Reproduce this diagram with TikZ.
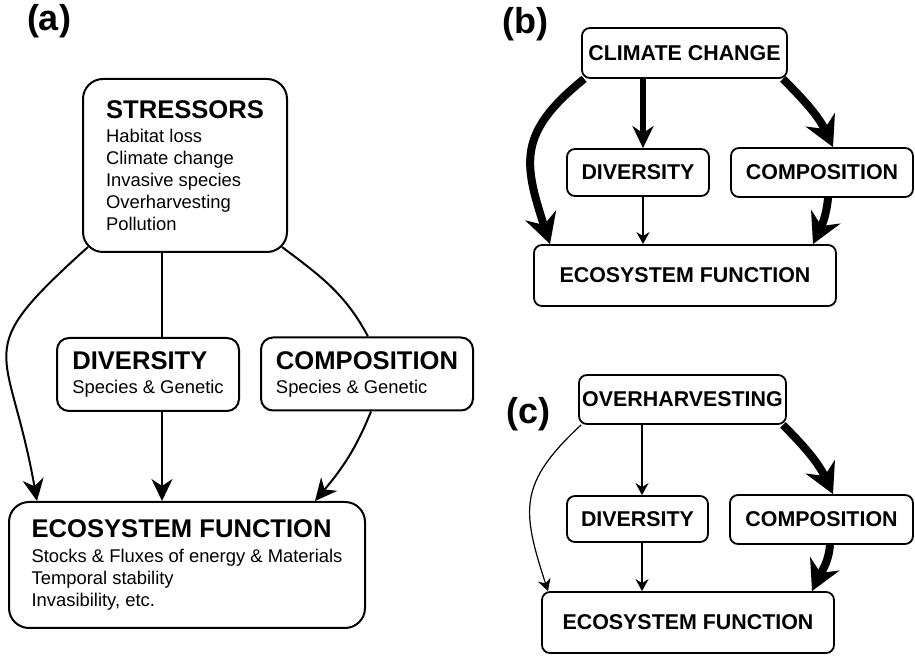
\documentclass[tikz,border=0pt]{standalone}
\usepackage{fontspec}
\setmainfont{Liberation Sans}
\usetikzlibrary{arrows.meta}

\newcommand{\boxtitle}[1]{{\fontsize{12.8}{14}\selectfont\bfseries #1}}

\begin{document}
\begin{tikzpicture}[
    x=0.5pt, y=-0.5pt,
    panel/.style={font=\fontsize{18}{20}\selectfont\bfseries, inner sep=0pt},
    bigbox/.style={draw, line width=1pt, rounded corners=6pt, align=left, inner sep=0pt,
                   font=\fontsize{9.2}{11}\selectfont},
    box/.style={draw, line width=0.9pt, rounded corners=4pt, inner sep=0pt,
                font=\fontsize{10.7}{12}\selectfont\bfseries},
    linkA/.style={line width=1pt},
    arrA/.style={linkA, -{Stealth[length=11pt, width=10.5pt, inset=3.5pt]}},
    weakarr/.style={line width=0.6pt, -{Stealth[length=6pt, width=6.5pt, inset=2pt]}},
    midarr/.style={line width=2.8pt, -{Stealth[length=11pt, width=10.5pt, inset=3.5pt]}},
    strongarr/.style={line width=4pt, -{Stealth[length=15pt, width=16pt, inset=5pt]}}
  ]
  \useasboundingbox (0,0) rectangle (915,656);

  % (a) general scheme
  \node[panel] (labA) at (49,21) {(a)};
  \node[bigbox, rounded corners=10pt, minimum width=102pt, minimum height=86.5pt]
    (stress) at (185,165.5)
    {\boxtitle{STRESSORS}\\[1pt] Habitat loss\\ Climate change\\ Invasive species\\
     Overharvesting\\ Pollution};
  \node[bigbox, minimum width=91pt, minimum height=36.5pt] (divA) at (148,374.5)
    {\boxtitle{DIVERSITY}\\[1pt] Species \& Genetic};
  \node[bigbox, minimum width=106pt, minimum height=36.5pt] (compA) at (367,374)
    {\boxtitle{COMPOSITION}\\[1pt] Species \& Genetic};
  \node[bigbox, rounded corners=10pt, minimum width=178pt, minimum height=63pt]
    (ecoA) at (187,565)
    {\boxtitle{ECOSYSTEM FUNCTION}\\[1.5pt] Stocks \& Fluxes of energy \& Materials\\
     Temporal stability\\ Invasibility, etc.};

  \draw[arrA] ([xshift=3pt,yshift=3pt]stress.south west)
    to[out=222, in=100, looseness=1.6] ([xshift=-75pt]ecoA.north);
  \draw[linkA] ([xshift=7pt]divA.north |- stress.south) -- ([xshift=7pt]divA.north);
  \draw[linkA] ([xshift=-3pt,yshift=3pt]stress.south east)
    to[out=-37, in=118] ([xshift=0.5pt]compA.north);
  \draw[arrA] ([xshift=7pt]divA.south) -- ([xshift=7pt]divA.south |- ecoA.north);
  \draw[arrA] ([xshift=2pt]compA.south) to[out=-112, in=50] ([xshift=64pt]ecoA.north);

  % (b) climate change
  \node[panel] (labB) at (525.5,24) {(b)};
  \node[box, minimum width=102.5pt, minimum height=25pt] (cc) at (684.5,53) {CLIMATE CHANGE};
  \node[box, minimum width=71pt, minimum height=23.5pt] (divB) at (638,172.5) {DIVERSITY};
  \node[box, minimum width=91pt, minimum height=24.5pt] (compB) at (822,172.5) {COMPOSITION};
  \node[box, minimum width=151pt, minimum height=30.5pt] (ecoB) at (685,275.5) {ECOSYSTEM FUNCTION};

  \draw[strongarr] ([xshift=1.5pt]cc.south west)
    to[out=219, in=108, looseness=1.3] ([xshift=-67.5pt]ecoB.north);
  \draw[midarr] ([xshift=2.5pt]divB.north |- cc.south) -- ([xshift=2.5pt]divB.north);
  \draw[strongarr] ([xshift=-2.5pt]cc.south east) to[out=-45, in=115] ([xshift=5.5pt]compB.north);
  \draw[weakarr] ([xshift=2.5pt]divB.south) -- ([xshift=2.5pt]divB.south |- ecoB.north);
  \draw[strongarr] ([xshift=3pt]compB.south) to[out=-95, in=65] ([xshift=64pt]ecoB.north);

  % (c) overharvesting
  \node[panel] (labC) at (528.5,414) {(c)};
  \node[box, minimum width=103.5pt, minimum height=24.5pt] (oh) at (682.5,399.5) {OVERHARVESTING};
  \node[box, minimum width=70.5pt, minimum height=23pt] (divC) at (637.5,519) {DIVERSITY};
  \node[box, minimum width=91.5pt, minimum height=24.5pt] (compC) at (821.5,519.5) {COMPOSITION};
  \node[box, minimum width=146pt, minimum height=30.5pt] (ecoC) at (688,622.5) {ECOSYSTEM FUNCTION};

  \draw[weakarr] ([xshift=1.5pt]oh.south west)
    to[out=223, in=108, looseness=1.3] ([xshift=-70pt]ecoC.north);
  \draw[weakarr] ([xshift=2.25pt]divC.north |- oh.south) -- ([xshift=2.25pt]divC.north);
  \draw[strongarr] ([xshift=-2pt]oh.south east) to[out=-45, in=115] ([xshift=5.75pt]compC.north);
  \draw[weakarr] ([xshift=2.25pt]divC.south) -- ([xshift=2.25pt]divC.south |- ecoC.north);
  \draw[strongarr] ([xshift=4.25pt]compC.south) to[out=-95, in=65] ([xshift=62pt]ecoC.north);
\end{tikzpicture}
\end{document}
